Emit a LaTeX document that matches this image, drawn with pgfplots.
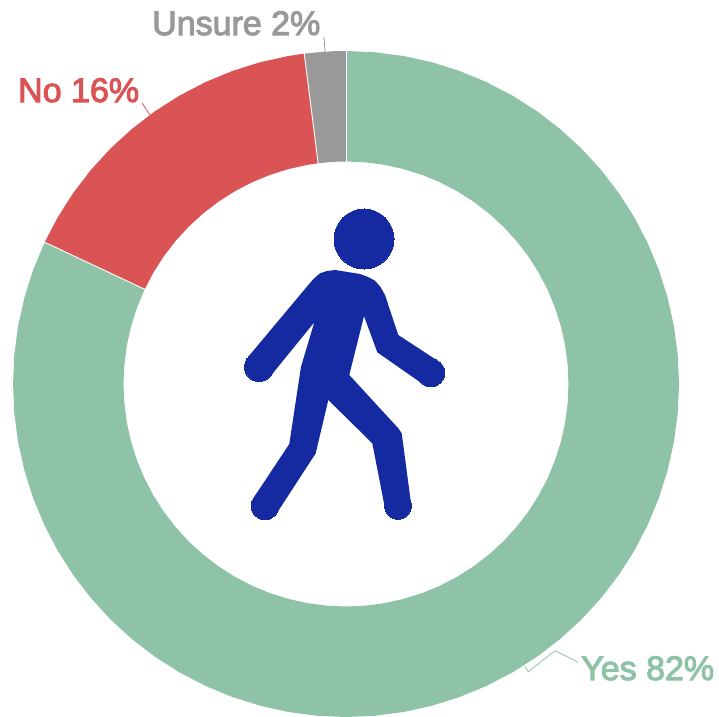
\documentclass[border=0pt]{standalone}
\usepackage{pgfplots}
\pgfplotsset{compat=1.18}
\usepgfplotslibrary{polar}
\usepackage{fontspec}
\setmainfont{Liberation Sans}
\newfontfamily\labfont[FakeBold=3]{Liberation Sans}
\definecolor{yescol}{HTML}{8FC3A7}
\definecolor{nocol}{HTML}{DB5455}
\definecolor{unsurecol}{HTML}{999999}
\definecolor{walker}{HTML}{152AA0}
\begin{document}
\begin{tikzpicture}
\begin{axis}[
  name=ax,
  scale only axis, width=719pt, height=716pt,
  xmin=-346, xmax=373, ymin=-332, ymax=384,
  hide axis,
]
% Yes 82%, clockwise from the top
\addplot[draw=none, fill=yescol, data cs=polar] coordinates {
  (90,333) (85,333) (80,333) (75,333) (70,333) (65,333) (60,333) (55,333) (50,333) (45,333)
  (40,333) (35,333) (30,333) (25,333) (20,333) (15,333) (10,333) (5,333) (0,333) (-5,333)
  (-10,333) (-15,333) (-20,333) (-25,333) (-30,333) (-35,333) (-40,333) (-45,333) (-50,333) (-55,333)
  (-60,333) (-65,333) (-70,333) (-75,333) (-80,333) (-85,333) (-90,333) (-95,333) (-100,333) (-105,333)
  (-110,333) (-115,333) (-120,333) (-125,333) (-130,333) (-135,333) (-140,333) (-145,333) (-150,333) (-155,333)
  (-160,333) (-165,333) (-170,333) (-175,333) (-180,333) (-185,333) (-190,333) (-195,333) (-200,333) (-205.2,333)
  (-205.2,222.5) (-200,222.5) (-195,222.5) (-190,222.5) (-185,222.5) (-180,222.5) (-175,222.5) (-170,222.5) (-165,222.5) (-160,222.5)
  (-155,222.5) (-150,222.5) (-145,222.5) (-140,222.5) (-135,222.5) (-130,222.5) (-125,222.5) (-120,222.5) (-115,222.5) (-110,222.5)
  (-105,222.5) (-100,222.5) (-95,222.5) (-90,222.5) (-85,222.5) (-80,222.5) (-75,222.5) (-70,222.5) (-65,222.5) (-60,222.5)
  (-55,222.5) (-50,222.5) (-45,222.5) (-40,222.5) (-35,222.5) (-30,222.5) (-25,222.5) (-20,222.5) (-15,222.5) (-10,222.5)
  (-5,222.5) (0,222.5) (5,222.5) (10,222.5) (15,222.5) (20,222.5) (25,222.5) (30,222.5) (35,222.5) (40,222.5)
  (45,222.5) (50,222.5) (55,222.5) (60,222.5) (65,222.5) (70,222.5) (75,222.5) (80,222.5) (85,222.5) (90,222.5)
} -- cycle;
% No 16%
\addplot[draw=none, fill=nocol, data cs=polar] coordinates {
  (97.2,333) (100,333) (105,333) (110,333) (115,333) (120,333) (125,333) (130,333) (135,333) (140,333) (145,333) (150,333) (154.8,333)
  (154.8,222.5) (150,222.5) (145,222.5) (140,222.5) (135,222.5) (130,222.5) (125,222.5) (120,222.5) (115,222.5) (110,222.5) (105,222.5) (100,222.5) (97.2,222.5)
} -- cycle;
% Unsure 2%
\addplot[draw=none, fill=unsurecol, data cs=polar] coordinates {
  (90,333) (92,333) (94,333) (97.2,333) (97.2,222.5) (94,222.5) (92,222.5) (90,222.5)
} -- cycle;
% slice separators
\addplot[white, line width=0.9pt, data cs=polar] coordinates {(90,222) (90,333.5)};
\addplot[white, line width=0.9pt, data cs=polar] coordinates {(97.2,222) (97.2,333.5)};
\addplot[white, line width=0.9pt, data cs=polar] coordinates {(154.8,222) (154.8,333.5)};
% leader lines
\addplot[unsurecol, line width=0.8pt] coordinates {(-22,347) (-21,332)};
\addplot[nocol, line width=0.8pt] coordinates {(-204,281) (-196,269)};
\addplot[yescol, line width=0.8pt] coordinates {(179,-282) (182.3,-287.7) (209,-266.7) (232.3,-278.3)};
% walking figure
\addplot[only marks, mark=*, mark size=30pt, mark options={draw=walker, fill=walker, line width=0pt}] coordinates {(18,145)};
\addplot[draw=none, fill=walker] coordinates {
  (-37.7,99) (-32,105.5) (-26,110.7) (-19,113) (-11,114) (14,110) (22,107) (29,103.3) (34.5,97) (39,89) (52.3,49) (94,21.7)
  (75.7,0.7) (31.3,31.7) (18,68) (3.3,9) (52.3,-44.3) (55.7,-49.3) (65,-119.3)
  (39,-124.3) (26.3,-59.3) (-17.7,-16) (-30.3,-69.3) (-69.3,-129.3) (-92.7,-114.3)
  (-56.7,-60) (-45,17.3) (-31.7,61.7) (-76,7.3) (-97.7,27.3)
} -- cycle;
\addplot[only marks, mark=*, mark size=14.5pt, mark options={draw=walker, fill=walker, line width=0pt}] coordinates {(-87,17)};
\addplot[only marks, mark=*, mark size=14pt, mark options={draw=walker, fill=walker, line width=0pt}] coordinates {
  (84.9,11.2) (-81,-121.8)
};
\addplot[only marks, mark=*, mark size=13.3pt, mark options={draw=walker, fill=walker, line width=0pt}] coordinates {(52,-122)};
% labels
\node[anchor=base west, inner sep=0pt, text=nocol, font=\labfont\fontsize{34}{34}\selectfont] at (axis cs:-328,282) {No 16\%};
\node[anchor=base west, inner sep=0pt, text=unsurecol, font=\labfont\fontsize{34}{34}\selectfont] at (axis cs:-194,349) {Unsure 2\%};
\node[anchor=base west, inner sep=0pt, text=yescol, font=\labfont\fontsize{34}{34}\selectfont] at (axis cs:235,-296) {Yes 82\%};
\end{axis}
\path[use as bounding box] (ax.south west) rectangle (ax.north east);
\end{tikzpicture}
\end{document}
